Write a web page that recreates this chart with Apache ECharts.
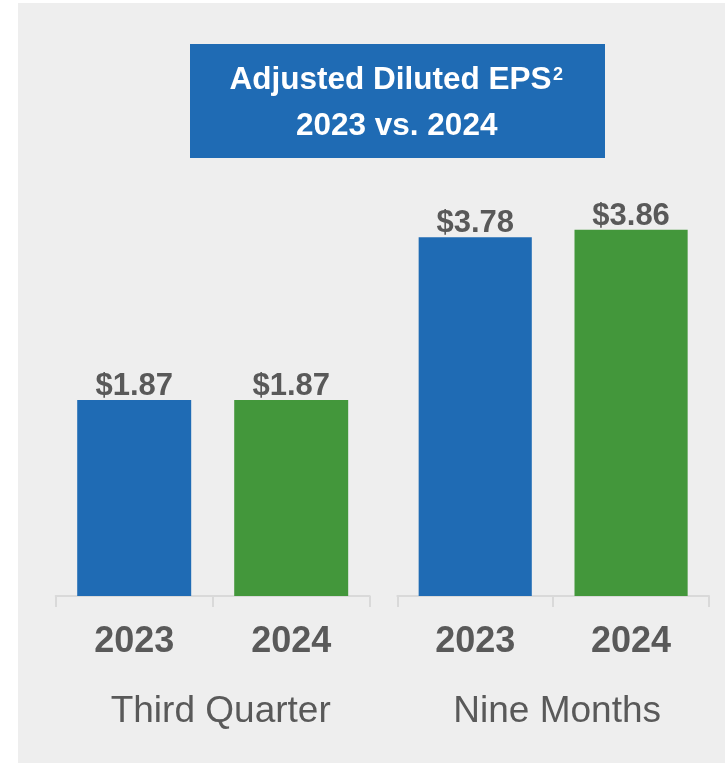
<!DOCTYPE html>
<html>
<head>
<meta charset="utf-8">
<script src="https://cdn.jsdelivr.net/npm/echarts@6/dist/echarts.min.js"></script>
<style>
  html, body { margin: 0; padding: 0; background: #ffffff; }
  #chart { width: 725px; height: 763px; }
</style>
</head>
<body>
<div id="chart"></div>
<script>
// ---- data ----
const years = ['2023', '2024'];
const thirdQuarter = [1.87, 1.87];
const nineMonths = [3.78, 3.86];
const groupNames = ['Third Quarter', 'Nine Months'];
const titleLine1 = 'Adjusted Diluted EPS';
const titleSup = '2';
const titleLine2 = '2023 vs. 2024';

// ---- styling ----
const FONT = 'Liberation Sans, Arial, sans-serif';
const BLUE = '#1F6BB4';
const GREEN = '#43973B';
const barColors = [BLUE, GREEN];
const TEXT = '#595959';
const AXIS = '#D9D9D9';

function makeData(vals) {
  return vals.map((v, i) => ({ value: v, itemStyle: { color: barColors[i] } }));
}

function xAxisFor(gridIndex, name, shift) {
  return {
    type: 'category',
    gridIndex: gridIndex,
    data: years,
    axisLine: { show: true, lineStyle: { color: AXIS, width: 2 } },
    axisTick: { show: true, length: 11, lineStyle: { color: AXIS, width: 2 } },
    axisLabel: { margin: 28, color: TEXT, fontSize: 36, fontWeight: 'bold', fontFamily: FONT },
    name: name,
    nameLocation: 'middle',
    nameGap: 97,
    nameTextStyle: { color: TEXT, fontSize: 37, fontFamily: FONT, padding: [0, 0, 0, shift] }
  };
}

function yAxisFor(gridIndex) {
  return { type: 'value', gridIndex: gridIndex, min: 0, max: 4, show: false, splitLine: { show: false } };
}

function seriesFor(idx, vals) {
  return {
    type: 'bar',
    xAxisIndex: idx,
    yAxisIndex: idx,
    data: makeData(vals),
    barWidth: '72.6%',
    label: {
      show: true,
      position: 'top',
      distance: -2,
      formatter: p => '$' + p.value.toFixed(2),
      color: TEXT,
      fontSize: 31,
      fontWeight: 'bold',
      fontFamily: FONT
    }
  };
}

const chart = echarts.init(document.getElementById('chart'), null, { renderer: 'canvas' });
chart.setOption({
  animation: false,
  backgroundColor: '#ffffff',
  graphic: [
    { type: 'rect', z: -10, shape: { x: 18, y: 3, width: 707, height: 760 }, style: { fill: '#EEEEEE' } },
    { type: 'rect', z: -5, shape: { x: 190, y: 44, width: 415, height: 114 }, style: { fill: BLUE } },
    {
      type: 'text', z: -4, x: 551.5, y: 80,
      style: {
        text: titleLine1, align: 'right', verticalAlign: 'middle',
        fill: '#ffffff', fontSize: 31.5, fontWeight: 'bold', fontFamily: FONT
      }
    },
    {
      type: 'text', z: -4, x: 553, y: 66,
      style: {
        text: titleSup, align: 'left', verticalAlign: 'top',
        fill: '#ffffff', fontSize: 18, fontWeight: 'bold', fontFamily: FONT
      }
    },
    {
      type: 'text', z: -4, x: 396.7, y: 126.5,
      style: {
        text: titleLine2, align: 'center', verticalAlign: 'middle',
        fill: '#ffffff', fontSize: 31.5, fontWeight: 'bold', fontFamily: FONT
      }
    }
  ],
  grid: [
    { left: 55.7, width: 314, top: 177, height: 419 },
    { left: 397.3, width: 311.7, top: 216.4, height: 379.6 }
  ],
  xAxis: [xAxisFor(0, groupNames[0], 16), xAxisFor(1, groupNames[1], 8)],
  yAxis: [yAxisFor(0), yAxisFor(1)],
  series: [seriesFor(0, thirdQuarter), seriesFor(1, nineMonths)]
});
</script>
</body>
</html>
